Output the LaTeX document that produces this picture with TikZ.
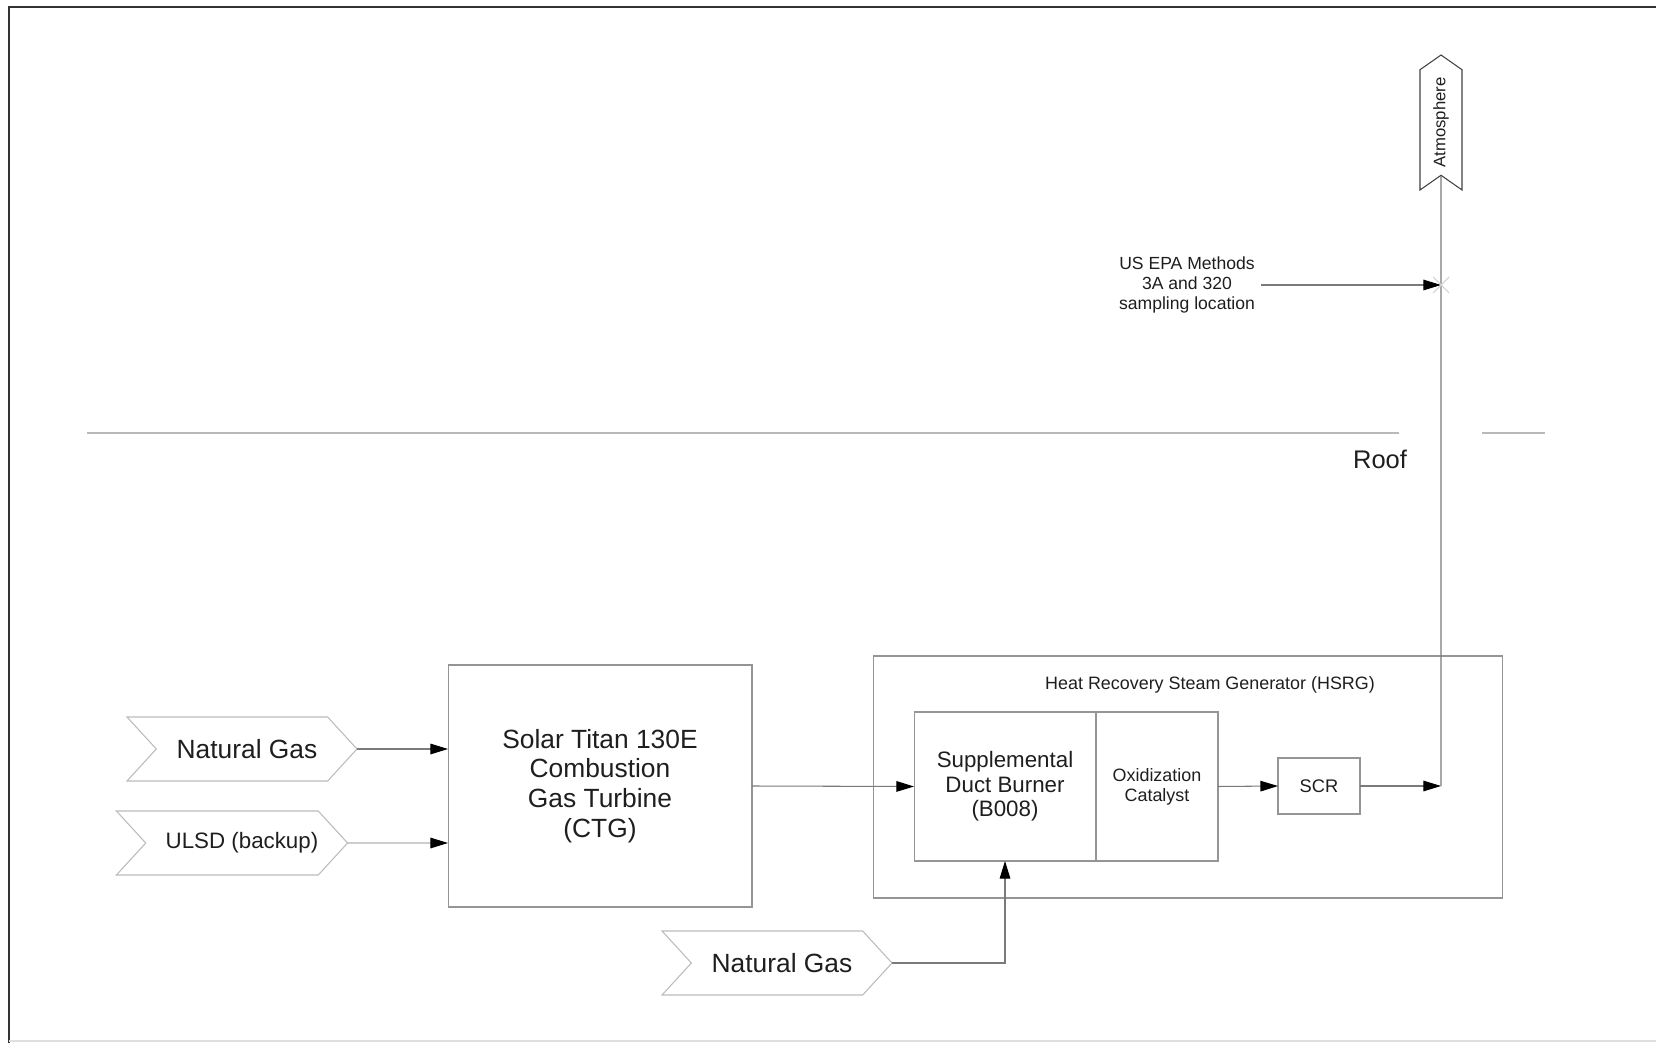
\documentclass[tikz,border=0pt]{standalone}
\usepackage{fontspec}
\setmainfont{Liberation Sans}
\usetikzlibrary{shapes.symbols, arrows.meta, positioning}
\definecolor{boxgray}{HTML}{959595}
\definecolor{chevgray}{HTML}{BBBBBB}
\definecolor{linegray}{HTML}{7A7A7A}
\definecolor{faintgray}{HTML}{CDCDCD}
\definecolor{txt}{HTML}{1E1E1E}

\begin{document}
\begin{tikzpicture}[x=0.02cm, y=-0.02cm,
    blk/.style={draw=boxgray, line width=0.6pt, align=center, inner sep=0pt, outer sep=0pt, text=txt},
    chev/.style={signal, signal from=west, signal to=east, signal pointer angle=95,
      draw=chevgray, line width=0.6pt, inner sep=0pt, outer sep=0pt, text=txt,
      minimum width=4.6cm, minimum height=1.28cm},
    flow/.style={draw=linegray, line width=0.6pt, -{Triangle[length=10pt, width=6pt, color=black]}},
    pipe/.style={draw=linegray, line width=0.6pt}
  ]
  \useasboundingbox (0,0) rectangle (1656,1043);

  % frame
  \draw[black!80, line width=1.6pt] (1656,7) -- (9,7) -- (9,1043);
  \draw[gray!25, line width=0.6pt] (9,1041) -- (1656,1041);

  % roof
  \draw[gray!55, line width=0.6pt] (87,433) -- (1399,433) (1482,433) -- (1545,433);
  \node[text=txt, font=\fontsize{14.5}{16}\selectfont] (roof) at (1380,459) {Roof};

  % fuels and turbine
  \node[chev, font=\fontsize{15}{17}\selectfont] (ng1) at (242,749) {\hspace{0.2cm}Natural Gas};
  \node[chev, font=\fontsize{12.7}{14}\selectfont] (ulsd) at (232,843) {\hspace{0.4cm}ULSD (backup)};
  \node[chev, font=\fontsize{15}{17}\selectfont] (ng2) at (777,963) {\hspace{0.2cm}Natural Gas};

  \node[blk, minimum width=6.08cm, minimum height=4.84cm, font=\fontsize{15}{17}\selectfont] (ctg) at (600,786)
    {Solar Titan 130E\\Combustion\\Gas Turbine\\(CTG)};

  % HRSG
  \node[blk, minimum width=12.6cm, minimum height=4.84cm] (hrsg) at (1188,777) {};
  \node[text=txt, font=\fontsize{10.2}{12}\selectfont] (hrsgt) at (1210,685) {Heat Recovery Steam Generator (HSRG)};

  \node[blk, minimum width=3.64cm, minimum height=2.98cm, font=\fontsize{12.7}{14}\selectfont] (burner) at (1005,786.5)
    {Supplemental\\Duct Burner\\(B008)};
  \node[blk, minimum width=2.44cm, minimum height=2.98cm, right=0pt of burner, font=\fontsize{10.2}{11.4}\selectfont] (oxid)
    {Oxidization\\Catalyst};
  \node[blk, minimum width=1.64cm, minimum height=1.12cm, font=\fontsize{10.4}{12}\selectfont] (scr) at (1319,786) {SCR};

  % stack
  \node[signal, signal from=west, signal to=east, signal pointer angle=110, rotate=90,
    draw=black!75, line width=0.6pt, inner sep=0pt, text=txt,
    minimum width=2.7cm, minimum height=0.84cm, font=\fontsize{9.5}{11}\selectfont] (atm) at (1441,122.5) {Atmosphere};
  \coordinate (stack) at (1441,786);
  \coordinate (samp) at (1441,285);

  \node[align=center, text=txt, font=\fontsize{10}{11.4}\selectfont] (epa) at (1187,285)
    {US EPA Methods\\3A and 320\\sampling location};

  % connectors
  \draw[flow] (ng1.east) -- (ng1.east -| ctg.west);
  \draw[flow, draw=faintgray] (ulsd.east) -- (ulsd.east -| ctg.west);
  \draw[flow] (ctg.east) -- (burner.west);
  \draw[flow] (ng2.east) -| (burner.south);
  \draw[flow] (oxid.east) -- (scr.west);
  \draw[flow] (scr.east) -- (stack);
  \draw[pipe] (stack) -- (atm);
  \draw[flow] (epa.east) -- (samp);
  \draw[gray!35, line width=0.6pt] (samp) +(-8,-8) -- +(8,8) (samp) +(-8,8) -- +(8,-8);
\end{tikzpicture}
\end{document}
